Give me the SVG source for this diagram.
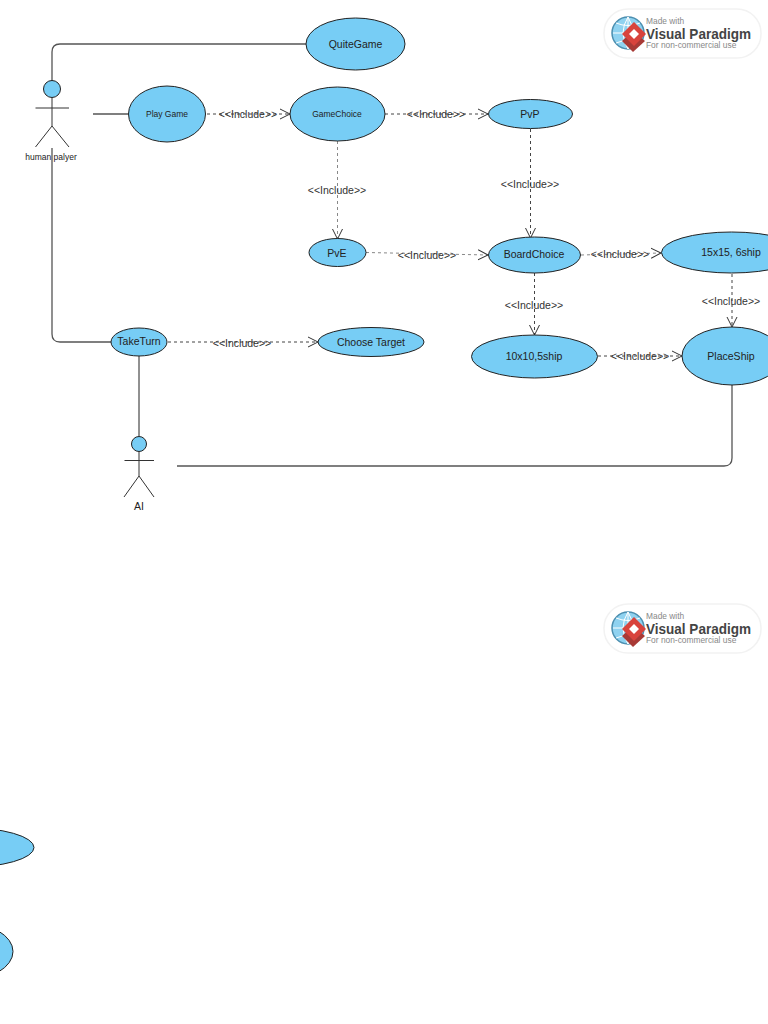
<svg xmlns="http://www.w3.org/2000/svg" width="768" height="1024" viewBox="0 0 768 1024">
<style>
text{font-family:"Liberation Sans",Arial,sans-serif;fill:#222;text-anchor:middle}
.uc{fill:#77cdf5;stroke:#222;stroke-width:1}
.t{font-size:10.5px}
.s{font-size:8.5px}
.lab{font-size:10.5px;fill:#333}
.assoc{fill:none;stroke:#555;stroke-width:1.3}
.dep{fill:none;stroke:#444;stroke-width:1;stroke-dasharray:3 3;marker-end:url(#open)}
.soft{stroke:#888}
.stick{fill:none;stroke:#333;stroke-width:1}
.badge{fill:#fff;stroke:#f2f2f2;stroke-width:1.500}
.vp{font-weight:bold;fill:#444;text-anchor:start;font-size:14.500px}
.vs{fill:#888;text-anchor:start;font-size:8.400px}
</style>
<defs>
<marker id="open" markerUnits="userSpaceOnUse" markerWidth="12" markerHeight="12" refX="10" refY="5" orient="auto" viewBox="0 0 12 10">
<path d="M0 0L10 5L0 10" fill="none" stroke="#333" stroke-width="1"/>
</marker>
</defs>
<g id="connectors">
<path class="assoc" d="M52 81V52Q52 44 60 44H306"/>
<path class="assoc" d="M93 114H128"/>
<path class="assoc" d="M52 148V334Q52 342 60 342H111"/>
<path class="assoc" d="M139 356V436" style="stroke:#222;stroke-width:1"/>
<path class="assoc" d="M177 466H724Q732 466 732 458V385"/>
<path class="dep" d="M207 114H290"/>
<path class="dep" d="M385 114H488"/>
<path class="dep soft" d="M337.500 141V239"/>
<path class="dep" d="M530.500 129V238"/>
<path class="dep soft" d="M366 252.500L488 255"/>
<path class="dep soft" d="M581 255L661 253"/>
<path class="dep" d="M534.500 273V335"/>
<path class="dep" d="M732 274V327"/>
<path class="dep" d="M598 356H682"/>
<path class="dep" d="M168 342H318"/>
<text class="lab" x="248" y="118">&lt;&lt;Include&gt;&gt;</text>
<text class="lab" x="436" y="118">&lt;&lt;Include&gt;&gt;</text>
<text class="lab" x="337" y="194">&lt;&lt;Include&gt;&gt;</text>
<text class="lab" x="530" y="188">&lt;&lt;Include&gt;&gt;</text>
<text class="lab" x="427" y="259">&lt;&lt;Include&gt;&gt;</text>
<text class="lab" x="620" y="258">&lt;&lt;Include&gt;&gt;</text>
<text class="lab" x="534" y="308.500">&lt;&lt;Include&gt;&gt;</text>
<text class="lab" x="731" y="304.500">&lt;&lt;Include&gt;&gt;</text>
<text class="lab" x="640" y="360">&lt;&lt;Include&gt;&gt;</text>
<text class="lab" x="242" y="347">&lt;&lt;Include&gt;&gt;</text>
</g>
<g id="actor-human">
<circle class="uc" cx="52" cy="89" r="8.500"/>
<path class="stick" d="M52 97.500V126M35.500 108H69M35.500 147L52 126L69 147"/>
<text x="51" y="159.500" class="s">human palyer</text>
</g>
<g id="actor-ai">
<circle class="uc" cx="139" cy="444" r="7.500"/>
<path class="stick" d="M139 451.500V476M124.500 460.500H154M124 497L139 476L154 497"/>
<text x="139" y="510" class="t">AI</text>
</g>
<g id="uc-quitegame"><ellipse class="uc" cx="355.500" cy="44" rx="49.500" ry="26"/><text class="t" x="355.500" y="47.500">QuiteGame</text></g>
<g id="uc-playgame"><ellipse class="uc" cx="167" cy="114" rx="38.500" ry="28"/><text class="s" x="167" y="117">Play Game</text></g>
<g id="uc-gamechoice"><ellipse class="uc" cx="337.500" cy="114" rx="47.500" ry="27"/><text class="s" x="337" y="117">GameChoice</text></g>
<g id="uc-pvp"><ellipse class="uc" cx="530.500" cy="114" rx="42" ry="14.500"/><text class="t" x="530" y="118">PvP</text></g>
<g id="uc-pve"><ellipse class="uc" cx="337.500" cy="252.500" rx="28.500" ry="14"/><text class="t" x="337" y="256.500">PvE</text></g>
<g id="uc-boardchoice"><ellipse class="uc" cx="534.500" cy="255" rx="46" ry="18"/><text class="t" x="534" y="258">BoardChoice</text></g>
<g id="uc-15x15"><ellipse class="uc" cx="731.500" cy="252.500" rx="70" ry="20.500"/><text class="t" x="731" y="255.500">15x15, 6ship</text></g>
<g id="uc-10x10"><ellipse class="uc" cx="534.500" cy="356.500" rx="63" ry="21.500"/><text class="t" x="534" y="359.500">10x10,5ship</text></g>
<g id="uc-placeship"><ellipse class="uc" cx="732" cy="356" rx="50" ry="29"/><text class="t" x="731" y="359.500">PlaceShip</text></g>
<g id="uc-taketurn"><ellipse class="uc" cx="139" cy="342" rx="28" ry="14"/><text class="t" x="139" y="345">TakeTurn</text></g>
<g id="uc-choosetarget"><ellipse class="uc" cx="371" cy="342" rx="53" ry="14.500"/><text class="t" x="371" y="346">Choose Target</text></g>
<g id="uc-offpage-1"><ellipse class="uc" cx="-36" cy="847.500" rx="70" ry="20"/></g>
<g id="uc-offpage-2"><ellipse class="uc" cx="-37" cy="951.500" rx="50" ry="29"/></g>
<g id="badge-1">
<rect class="badge" x="604" y="9" width="157" height="49" rx="24"/>
<circle cx="628" cy="33" r="16" fill="#8fd2f0" stroke="#4c8fb0" stroke-width="1.500"/>
<path d="M613 33H643M628 17V49M616 23Q628 28 640 23M616 43Q628 38 640 43M628 17Q618 33 628 49M628 17Q638 33 628 49" fill="none" stroke="#fff" stroke-width="1"/>
<path d="M633 31L645 41L633 52L622 41Z" fill="#a83a36"/>
<path d="M634 22L646 34L634 46L622 34Z" fill="#d8433c"/>
<path d="M634 29L639 34L634 39L629 34Z" fill="#fff"/>
<text class="vp" x="646" y="39" textLength="105" lengthAdjust="spacingAndGlyphs">Visual Paradigm</text>
<text class="vs" x="646" y="24">Made with</text>
<text class="vs" x="646" y="48">For non-commercial use</text>
</g>
<g id="badge-2">
<rect class="badge" x="604" y="604" width="157" height="49" rx="24"/>
<circle cx="628" cy="628" r="16" fill="#8fd2f0" stroke="#4c8fb0" stroke-width="1.500"/>
<path d="M613 628H643M628 612V644M616 618Q628 623 640 618M616 638Q628 633 640 638M628 612Q618 628 628 644M628 612Q638 628 628 644" fill="none" stroke="#fff" stroke-width="1"/>
<path d="M633 626L645 636L633 647L622 636Z" fill="#a83a36"/>
<path d="M634 617L646 629L634 641L622 629Z" fill="#d8433c"/>
<path d="M634 624L639 629L634 634L629 629Z" fill="#fff"/>
<text class="vp" x="646" y="634" textLength="105" lengthAdjust="spacingAndGlyphs">Visual Paradigm</text>
<text class="vs" x="646" y="619">Made with</text>
<text class="vs" x="646" y="643">For non-commercial use</text>
</g>
</svg>
